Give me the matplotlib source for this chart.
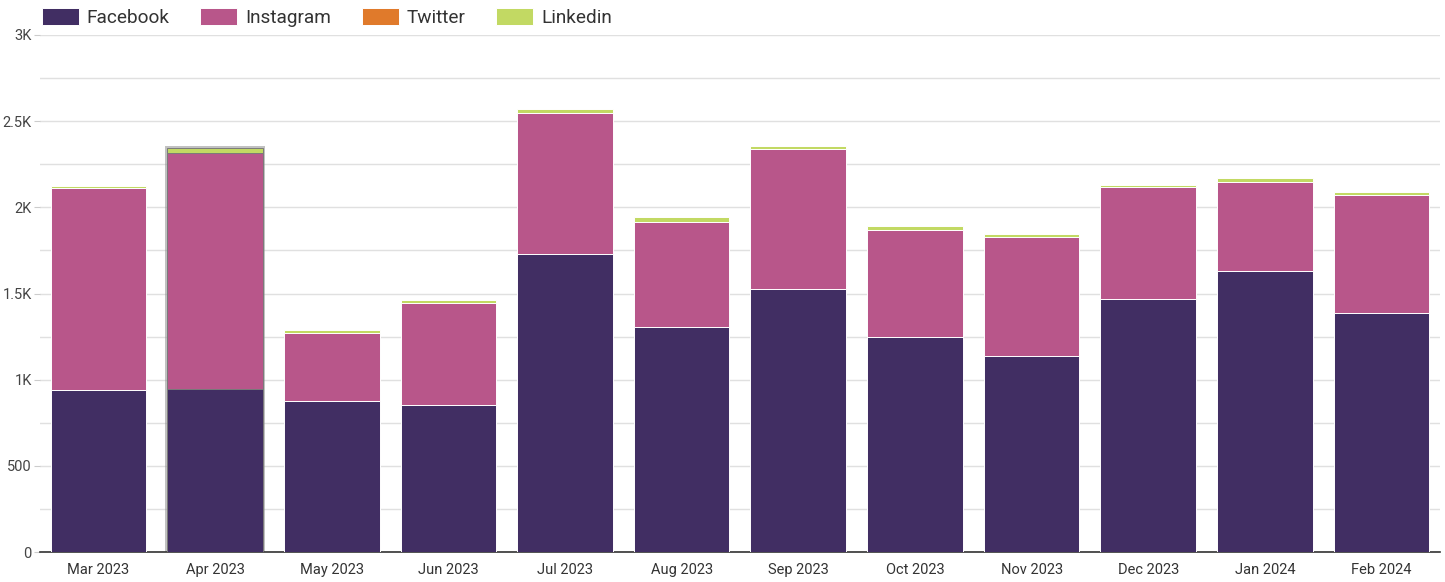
import numpy as np
import matplotlib.pyplot as plt
from matplotlib.ticker import FuncFormatter, MultipleLocator

plt.rcParams["font.family"] = ["Roboto", "DejaVu Sans"]

months = ["Mar 2023", "Apr 2023", "May 2023", "Jun 2023", "Jul 2023", "Aug 2023",
          "Sep 2023", "Oct 2023", "Nov 2023", "Dec 2023", "Jan 2024", "Feb 2024"]
facebook = [940, 946, 876, 853, 1730, 1306, 1526, 1248, 1138, 1468, 1631, 1387]
instagram = [1173, 1370, 395, 592, 818, 609, 813, 621, 690, 650, 516, 685]
twitter = [1, 2, 1, 1, 1, 1, 1, 1, 1, 1, 1, 1]
linkedin = [9, 25, 16, 17, 22, 27, 16, 22, 16, 12, 23, 16]

series = [("Facebook", facebook, "#412e63"),
          ("Instagram", instagram, "#b8568a"),
          ("Twitter", twitter, "#e07a2b"),
          ("Linkedin", linkedin, "#c2d963")]

fig = plt.figure(figsize=(14.45, 5.82), dpi=100)
ax = fig.add_axes([0.0277, 0.0515, 0.9688, 0.8884])

x = np.arange(len(months))
width = 0.82

# hover highlight on Apr (shadow around the stack)
totals = np.sum([facebook, instagram, twitter, linkedin], axis=0)
ax.bar(x[1], totals[1] + 12, width=width + 0.04, color="#8f8f8f", alpha=0.55, zorder=2)

edges = ["white"] * len(months)
edges[1] = "#7a7a7a"

bottom = np.zeros(len(months))
for name, vals, color in series:
    ax.bar(x, vals, width=width, bottom=bottom, color=color, label=name,
           edgecolor=edges, linewidth=0.7, zorder=3)
    bottom += np.array(vals)

ax.set_xlim(-0.5, len(months) - 0.5)
ax.set_ylim(0, 3000)
ax.yaxis.set_major_locator(MultipleLocator(500))
ax.yaxis.set_minor_locator(MultipleLocator(250))
ax.yaxis.set_major_formatter(FuncFormatter(
    lambda v, p: "0" if v == 0 else (f"{v/1000:g}K" if v >= 1000 else f"{v:g}")))
ax.grid(axis="y", which="both", color="#e0e0e0", linewidth=1, zorder=0)
ax.set_axisbelow(True)

for s in ["top", "right", "left"]:
    ax.spines[s].set_visible(False)
ax.spines["bottom"].set_color("#333333")
ax.spines["bottom"].set_linewidth(1.2)

ax.set_xticks(x)
ax.set_xticklabels(months)
ax.tick_params(axis="x", length=0, pad=8, labelsize=10.5, labelcolor="#333333")
ax.tick_params(axis="y", which="major", length=4, color="#cccccc", pad=2,
               labelsize=10.5, labelcolor="#444444")
ax.tick_params(axis="y", which="minor", length=0)

# legend handles use the first series colour edge; keep them plain
leg = fig.legend(loc="upper left", bbox_to_anchor=(0.017, 1.016), ncol=4, frameon=False,
                 fontsize=13.7, handlelength=1.95, handleheight=1.05, columnspacing=1.6,
                 handletextpad=0.42, labelcolor="#333333")
for h in leg.legend_handles:
    h.set_edgecolor("white")

fig.savefig("out.png", dpi=100)
